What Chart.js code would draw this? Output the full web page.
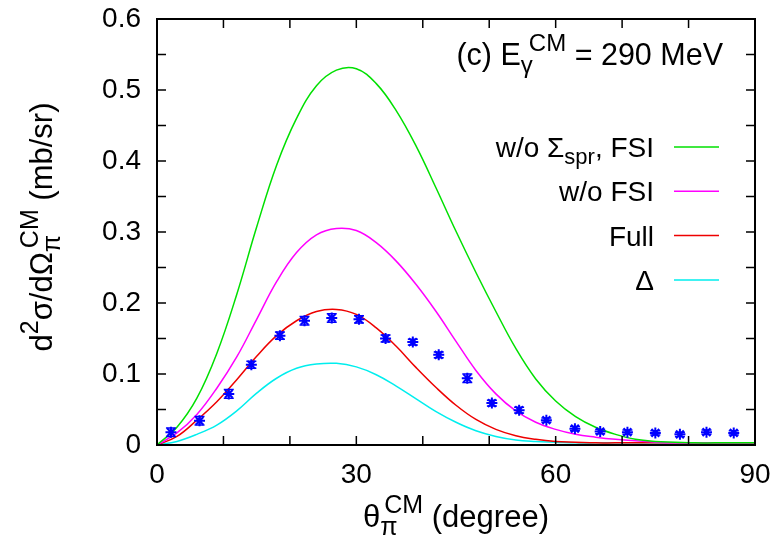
<!DOCTYPE html>
<html>
<head>
<meta charset="utf-8">
<script src="https://cdn.jsdelivr.net/npm/chart.js@4.4.1/dist/chart.umd.min.js"></script>
<style>
html, body { margin: 0; padding: 0; background: #fff; }
#wrap { width: 778px; height: 537px; }
</style>
</head>
<body>
<div id="wrap"><canvas id="c" width="778" height="537"></canvas></div>
<script>
// theory curves, sampled every 3 degrees
var theta = [0, 3, 6, 9, 12, 15, 18, 21, 24, 27, 30, 33, 36, 39, 42, 45, 48, 51, 54, 57, 60, 63, 66, 69, 72, 75, 78, 81, 84, 87, 90];
var noSprFsi = [0, 0.025, 0.066, 0.129, 0.212, 0.307, 0.394, 0.460, 0.506, 0.528, 0.530, 0.509, 0.471, 0.421, 0.362, 0.301, 0.243, 0.188, 0.136, 0.093, 0.062, 0.040, 0.025, 0.015, 0.008, 0.005, 0.004, 0.003, 0.003, 0.003, 0.003];
var noFsi = [0, 0.017, 0.043, 0.080, 0.124, 0.177, 0.230, 0.271, 0.296, 0.305, 0.302, 0.285, 0.259, 0.226, 0.188, 0.146, 0.105, 0.072, 0.048, 0.032, 0.022, 0.015, 0.011, 0.008, 0.006, 0.004, 0.003, 0.003, 0.003, 0.003, 0.003];
var full = [0, 0.012, 0.035, 0.061, 0.092, 0.125, 0.154, 0.175, 0.188, 0.191, 0.184, 0.165, 0.139, 0.109, 0.081, 0.056, 0.036, 0.022, 0.013, 0.008, 0.005, 0.004, 0.003, 0.003, 0.003, 0.003, 0.003, 0.003, 0.003, 0.003, 0.003];
var delta = [0, 0.005, 0.015, 0.028, 0.048, 0.073, 0.094, 0.108, 0.114, 0.115, 0.110, 0.099, 0.083, 0.065, 0.047, 0.032, 0.020, 0.012, 0.007, 0.005, 0.004, 0.003, 0.003, 0.003, 0.003, 0.003, 0.003, 0.003, 0.003, 0.003, 0.003];

// data points
var expTheta = [2.1, 6.4, 10.8, 14.2, 18.5, 22.2, 26.3, 30.4, 34.4, 38.5, 42.4, 46.7, 50.4, 54.5, 58.6, 62.9, 66.7, 70.8, 75.0, 78.7, 82.7, 86.8];
var expVal = [0.018, 0.034, 0.072, 0.113, 0.154, 0.175, 0.179, 0.177, 0.150, 0.145, 0.127, 0.094, 0.059, 0.049, 0.035, 0.023, 0.019, 0.018, 0.017, 0.015, 0.018, 0.017];
var expErr = [0.006, 0.006, 0.006, 0.005, 0.005, 0.006, 0.006, 0.005, 0.005, 0.004, 0.004, 0.006, 0.004, 0.004, 0.003, 0.003, 0.003, 0.003, 0.003, 0.003, 0.003, 0.003];

var xLabels = [0, 30, 60, 90];
var yLabels = [0, 0.1, 0.2, 0.3, 0.4, 0.5, 0.6];

var FONT = '"Liberation Sans", Arial, sans-serif';

function pts(xs, ys) {
	var out = [];
	for (var i in xs) out.push({x: xs[i], y: ys[i]});
	return out;
}

function near(list, v) {
	for (var i in list) if (Math.abs(list[i] - v) < 1e-6) return true;
	return false;
}

// text with sub/superscripts. kind: 0 normal, 1 sup, -1 sub, 2 sup placed over previous sub (+ offset)
function drawRich(ctx, parts, x, y, align, big, small) {
	var pos = 0, items = [], lastStart = 0, lastW = 0;
	var up = -Math.round(big * 0.45), down = Math.round(big * 0.25);
	parts.forEach(function(p) {
		var size = p[1] === 0 ? big : small;
		ctx.font = size + 'px ' + FONT;
		var w = ctx.measureText(p[0]).width;
		if (p[1] === 2) {
			var sx = lastStart + (p[2] || 0);
			items.push({t: p[0], x: sx, dy: up, size: size});
			pos = Math.max(lastStart + lastW, sx + w);
		} else {
			var dy = p[1] === 1 ? up : (p[1] === -1 ? down : 0);
			items.push({t: p[0], x: pos, dy: dy, size: size});
			lastStart = pos; lastW = w;
			pos += w;
		}
	});
	var x0 = align === 'right' ? x - pos : (align === 'center' ? x - pos / 2 : x);
	ctx.textAlign = 'left';
	ctx.textBaseline = 'alphabetic';
	ctx.fillStyle = '#000';
	items.forEach(function(it) {
		ctx.font = it.size + 'px ' + FONT;
		ctx.fillText(it.t, x0 + it.x, y + it.dy);
	});
}

var errorBars = {
	id: 'errorBars',
	afterDatasetsDraw: function(chart) {
		var ctx = chart.ctx, xs = chart.scales.x, ys = chart.scales.y;
		ctx.save();
		ctx.strokeStyle = '#0000ff';
		ctx.lineWidth = 1.5;
		for (var i in expTheta) {
			var px = xs.getPixelForValue(expTheta[i]);
			var lo = ys.getPixelForValue(expVal[i] - expErr[i]);
			var hi = ys.getPixelForValue(expVal[i] + expErr[i]);
			ctx.beginPath();
			ctx.moveTo(px, lo); ctx.lineTo(px, hi);
			ctx.moveTo(px - 5, lo); ctx.lineTo(px + 5, lo);
			ctx.moveTo(px - 5, hi); ctx.lineTo(px + 5, hi);
			ctx.stroke();
		}
		ctx.restore();
	}
};

var frame = {
	id: 'frame',
	afterDraw: function(chart) {
		var ctx = chart.ctx, a = chart.chartArea, xs = chart.scales.x, ys = chart.scales.y;
		ctx.save();
		ctx.strokeStyle = '#000';
		ctx.lineWidth = 2;
		ctx.strokeRect(a.left, a.top, a.right - a.left, a.bottom - a.top);
		ctx.lineWidth = 1.5;
		ctx.beginPath();
		xs.ticks.forEach(function(t) {
			var px = xs.getPixelForValue(t.value);
			ctx.moveTo(px, a.bottom); ctx.lineTo(px, a.bottom - 9);
			ctx.moveTo(px, a.top); ctx.lineTo(px, a.top + 9);
		});
		ys.ticks.forEach(function(t) {
			var py = ys.getPixelForValue(t.value);
			ctx.moveTo(a.left, py); ctx.lineTo(a.left + 9, py);
			ctx.moveTo(a.right, py); ctx.lineTo(a.right - 9, py);
		});
		ctx.stroke();

		// title and key
		drawRich(ctx, [['(c) E', 0], ['\u03b3', -1], ['CM', 2, 8], [' = 290 MeV', 0]], 723, 65, 'right', 30.5, 24);
		var key = [
			{parts: [['w/o \u03a3', 0], ['spr', -1], [', FSI', 0]], color: '#00e000'},
			{parts: [['w/o FSI', 0]], color: '#ff00ff'},
			{parts: [['Full', 0]], color: '#ee0000'},
			{parts: [['\u0394', 0]], color: '#00eeee'}
		];
		key.forEach(function(k, i) {
			var ly = 147 + i * 44.3;
			drawRich(ctx, k.parts, 654, ly + 10, 'right', 28, 22);
			ctx.strokeStyle = k.color;
			ctx.lineWidth = 1.5;
			ctx.beginPath();
			ctx.moveTo(674, ly); ctx.lineTo(719, ly);
			ctx.stroke();
		});

		// axis titles
		drawRich(ctx, [['\u03b8', 0], ['\u03c0', -1], ['CM', 2, 4], [' (degree)', 0]], (a.left + a.right) / 2, 527, 'center', 31, 25);
		ctx.save();
		ctx.translate(52, 227);
		ctx.rotate(-Math.PI / 2);
		drawRich(ctx, [['d', 0], ['2', 1], ['\u03c3/d\u03a9', 0], ['\u03c0', -1], ['CM', 2, 4], [' (mb/sr)', 0]], 0, 0, 'center', 31, 25);
		ctx.restore();
		ctx.restore();
	}
};

function curve(label, ys, color) {
	return {
		label: label,
		data: pts(theta, ys),
		showLine: true,
		borderColor: color,
		borderWidth: 1.5,
		pointRadius: 0,
		tension: 0.4,
		fill: false,
		order: 2
	};
}

var ctx = document.getElementById('c');
var chart = new Chart(ctx, {
	type: 'scatter',
	data: {
		datasets: [
			curve('w/o Σspr, FSI', noSprFsi, '#00e000'),
			curve('w/o FSI', noFsi, '#ff00ff'),
			curve('Full', full, '#ee0000'),
			curve('Δ', delta, '#00eeee'),
			{
				label: 'data',
				data: pts(expTheta, expVal),
				showLine: false,
				pointStyle: 'star',
				pointRadius: 5.5,
				borderWidth: 2,
				borderColor: '#0000ff',
				backgroundColor: '#0000ff',
				order: 1
			}
		]
	},
	options: {
		responsive: false,
		animation: false,
		layout: { padding: { left: 0, right: 23, top: 19, bottom: 0 } },
		plugins: { legend: { display: false }, tooltip: { enabled: false } },
		scales: {
			x: {
				type: 'linear', min: 0, max: 90,
				grid: { display: false, drawTicks: false },
				border: { display: false },
				ticks: {
					stepSize: 10, autoSkip: false, maxRotation: 0, padding: 13, color: '#000',
					font: { family: FONT, size: 28 },
					callback: function(v) { return near(xLabels, v) ? String(v) : ''; }
				},
				afterFit: function(s) { s.height = 92; s.paddingLeft = 0; s.paddingRight = 0; }
			},
			y: {
				type: 'linear', min: 0, max: 0.6,
				grid: { display: false, drawTicks: false },
				border: { display: false },
				ticks: {
					stepSize: 0.05, autoSkip: false, padding: 16, color: '#000',
					font: { family: FONT, size: 28 },
					callback: function(v) {
						if (!near(yLabels, v)) return '';
						return Math.abs(v) < 1e-9 ? '0' : v.toFixed(1);
					}
				},
				afterFit: function(s) { s.width = 157; s.paddingTop = 0; s.paddingBottom = 0; }
			}
		}
	},
	plugins: [errorBars, frame]
});
</script>
</body>
</html>
